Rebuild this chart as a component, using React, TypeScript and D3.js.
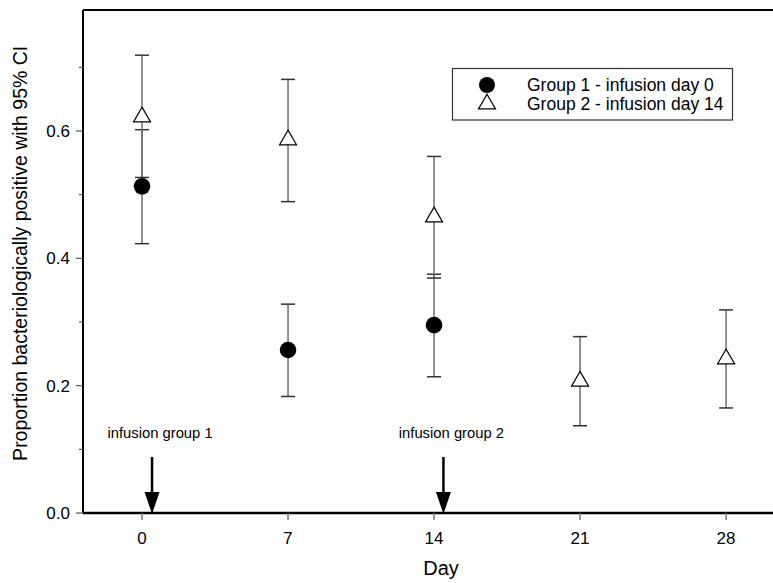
import React from 'react';
import * as d3 from 'd3';

// days of measurement
const xTicks = [0, 7, 14, 21, 28];
const yMajor = [0, 0.2, 0.4, 0.6];
const yMinor = [0.1, 0.3, 0.5, 0.7];

// Group 1 - infusion day 0
const g1Days = [0, 7, 14];
const g1Value = [0.513, 0.256, 0.295];
const g1Lower = [0.423, 0.183, 0.214];
const g1Upper = [0.602, 0.328, 0.375];

// Group 2 - infusion day 14
const g2Days = [0, 7, 14, 21, 28];
const g2Value = [0.622, 0.586, 0.465, 0.207, 0.242];
const g2Lower = [0.527, 0.489, 0.369, 0.137, 0.165];
const g2Upper = [0.719, 0.681, 0.56, 0.277, 0.319];

const arrowDays = [0.48, 14.45];
const arrowLabels = ['infusion group 1', 'infusion group 2'];
const legendLabels = ['Group 1 - infusion day 0', 'Group 2 - infusion day 14'];

const width = 773;
const height = 583;
const font = '"Liberation Sans", Arial, sans-serif';

const App: React.FC = () => {
    const x = d3.scaleLinear().domain([-2.83, 30.25]).range([83, 773]);
    const y = d3.scaleLinear().domain([0, 0.79]).range([513, 10]);

    const tri = d3.symbol().type(d3.symbolTriangle).size(125)()!;
    const fmt = d3.format('.1f');
    const capW = 7;

    const errBars = (days: number[], lo: number[], hi: number[], key: string) =>
        days.map((d, i) => (
            <g key={key + i} stroke="#6f6f6f" strokeWidth={1.5}>
                <line x1={x(d)} x2={x(d)} y1={y(lo[i])} y2={y(hi[i])} />
                <line x1={x(d) - capW} x2={x(d) + capW} y1={y(lo[i])} y2={y(lo[i])} stroke="#333" />
                <line x1={x(d) - capW} x2={x(d) + capW} y1={y(hi[i])} y2={y(hi[i])} stroke="#333" />
            </g>
        ));

    const arrowTop = 457;
    const headLen = 21;
    const headHalf = 7.5;

    return (
        <svg width={width} height={height} style={{ position: 'absolute', left: 0, top: 0 }} fontFamily={font}>
            <rect width={width} height={height} fill="white" />

            {/* frame */}
            <line x1={83} x2={773} y1={y(0.79)} y2={y(0.79)} stroke="#000" strokeWidth={2} />
            <line x1={83} x2={83} y1={y(0.79)} y2={y(0)} stroke="#000" strokeWidth={2} />
            <line x1={83} x2={773} y1={y(0)} y2={y(0)} stroke="#000" strokeWidth={2.5} />

            {/* y ticks */}
            {yMajor.map(v => (
                <g key={'ym' + v}>
                    <line x1={76} x2={83} y1={y(v)} y2={y(v)} stroke="#555" strokeWidth={1.2} />
                    <text x={70} y={y(v)} dy="0.35em" textAnchor="end" fontSize={17}>{fmt(v)}</text>
                </g>
            ))}
            {yMinor.map(v => (
                <line key={'yn' + v} x1={79} x2={83} y1={y(v)} y2={y(v)} stroke="#555" strokeWidth={1.2} />
            ))}

            {/* x ticks */}
            {xTicks.map(d => (
                <g key={'xt' + d}>
                    <line x1={x(d)} x2={x(d)} y1={y(0)} y2={y(0) + 7} stroke="#777" strokeWidth={1.5} />
                    <text x={x(d)} y={544} textAnchor="middle" fontSize={17}>{d}</text>
                </g>
            ))}

            {/* axis titles */}
            <text x={441} y={575} textAnchor="middle" fontSize={20}>Day</text>
            <text transform={`translate(27,${y(0.4) - 5}) rotate(-90)`} textAnchor="middle" fontSize={19.5}>
                Proportion bacteriologically positive with 95% CI
            </text>

            {/* error bars */}
            {errBars(g1Days, g1Lower, g1Upper, 'e1')}
            {errBars(g2Days, g2Lower, g2Upper, 'e2')}

            {/* markers */}
            {g1Days.map((d, i) => (
                <circle key={'c' + i} cx={x(d)} cy={y(g1Value[i])} r={8.3} fill="#000" />
            ))}
            {g2Days.map((d, i) => (
                <path key={'t' + i} d={tri} transform={`translate(${x(d)},${y(g2Value[i])})`}
                    fill="white" stroke="#000" strokeWidth={1.2} />
            ))}

            {/* infusion arrows */}
            {arrowDays.map((d, i) => (
                <g key={'a' + i}>
                    <text x={x(d) + 8} y={438} textAnchor="middle" fontSize={14.8}>{arrowLabels[i]}</text>
                    <line x1={x(d)} x2={x(d)} y1={arrowTop} y2={y(0) - headLen + 2} stroke="#000" strokeWidth={2.5} />
                    <path d={`M${x(d) - headHalf},${y(0) - headLen} L${x(d) + headHalf},${y(0) - headLen} L${x(d)},${y(0) + 1} Z`} fill="#000" />
                </g>
            ))}

            {/* legend */}
            <rect x={452.5} y={68.5} width={280} height={51.5} fill="white" stroke="#333" strokeWidth={1.2} />
            <circle cx={487} cy={85} r={8} fill="#000" />
            <path d={tri} transform="translate(487,104)" fill="white" stroke="#000" strokeWidth={1.2} />
            {legendLabels.map((l, i) => (
                <text key={'l' + i} x={527} y={85 + i * 19} dy="0.35em" fontSize={17.5}>{l}</text>
            ))}
        </svg>
    );
};

export default App;
